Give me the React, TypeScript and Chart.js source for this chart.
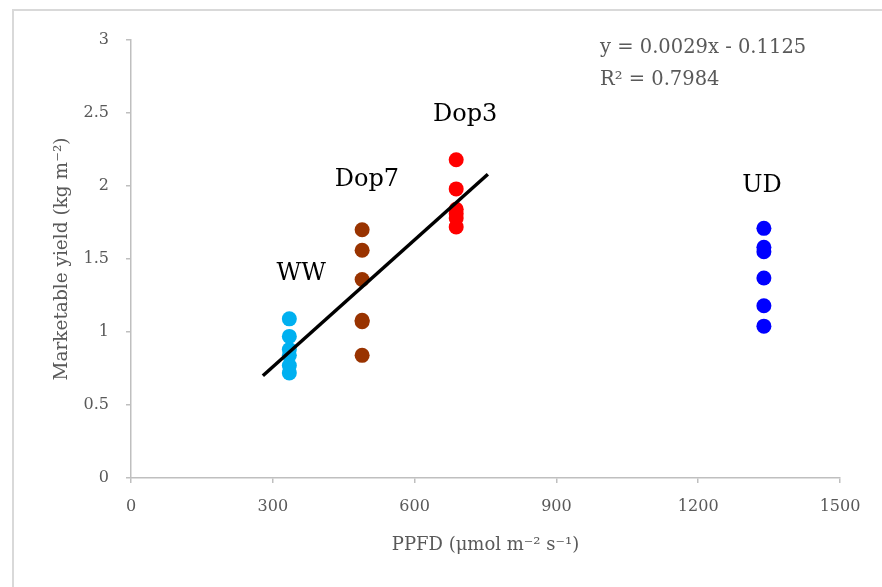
import React, { useEffect, useRef } from "react";
import { Chart, registerables } from "chart.js";

Chart.register(...registerables);

const wwX = [335, 335, 335, 335, 335, 335];
const wwY = [1.09, 0.97, 0.88, 0.84, 0.77, 0.72];
const dop7X = [489, 489, 489, 489, 489, 489];
const dop7Y = [1.7, 1.56, 1.36, 1.08, 1.07, 0.84];
const dop3X = [688, 688, 688, 688, 688, 688];
const dop3Y = [2.18, 1.98, 1.84, 1.81, 1.78, 1.72];
const udX = [1339, 1339, 1339, 1339, 1339, 1339];
const udY = [1.71, 1.58, 1.55, 1.37, 1.18, 1.04];
const trendX = [279, 755];
const trendY = [0.7, 2.08];

const groupLabels = ["WW", "Dop7", "Dop3", "UD"];
const groupLabelX = [360, 499, 707, 1335];
const groupLabelY = [1.4, 2.04, 2.49, 2.0];

const equationLines = ["y = 0.0029x - 0.1125", "R² = 0.7984"];

const xTicks = [0, 300, 600, 900, 1200, 1500];
const yTicks = [0, 0.5, 1, 1.5, 2, 2.5, 3];

const FONT = "'DejaVu Serif', 'Liberation Serif', serif";
const GRAY = "#595959";
const AXIS = "#bfbfbf";

const pts = (xs: number[], ys: number[]) => xs.map((x, i) => ({ x, y: ys[i] }));

const textPlugin = {
  id: "textPlugin",
  afterDatasetsDraw(chart: any) {
    const { ctx, scales } = chart;
    ctx.save();
    ctx.fillStyle = "#000";
    ctx.font = `24px ${FONT}`;
    ctx.textAlign = "center";
    ctx.textBaseline = "middle";
    groupLabels.forEach((t, i) => {
      ctx.fillText(t, scales.x.getPixelForValue(groupLabelX[i]), scales.y.getPixelForValue(groupLabelY[i]));
    });
    ctx.fillStyle = GRAY;
    ctx.font = `19.5px ${FONT}`;
    ctx.textAlign = "left";
    ctx.fillText(equationLines[0], 600, 48);
    ctx.fillText(equationLines[1], 600, 80);
    ctx.restore();
  },
};

export default function App() {
  const ref = useRef<HTMLCanvasElement | null>(null);
  useEffect(() => {
    if (!ref.current) return;
    const mk = (label: string, xs: number[], ys: number[], color: string) => ({
      type: "scatter" as const,
      label,
      data: pts(xs, ys),
      backgroundColor: color,
      borderColor: color,
      pointRadius: 7.5,
      pointBorderWidth: 0,
    });
    const chart = new Chart(ref.current, {
      type: "scatter",
      data: {
        datasets: [
          {
            type: "line",
            label: "trend",
            data: pts(trendX, trendY),
            borderColor: "#000",
            borderWidth: 3.5,
            pointRadius: 0,
            showLine: true,
            fill: false,
          } as any,
          mk("WW", wwX, wwY, "#00B0F0"),
          mk("Dop7", dop7X, dop7Y, "#993300"),
          mk("Dop3", dop3X, dop3Y, "#FF0000"),
          mk("UD", udX, udY, "#0000FF"),
        ],
      },
      options: {
        animation: false,
        responsive: false,
        layout: { padding: { left: 0, top: 40, right: 42, bottom: 0 } },
        plugins: { legend: { display: false }, tooltip: { enabled: false } },
        scales: {
          x: {
            type: "linear",
            min: 0,
            max: 1500,
            afterBuildTicks: (s: any) => {
              s.ticks = xTicks.map((v) => ({ value: v }));
            },
            afterFit: (s: any) => {
              s.height = 109;
            },
            grid: { drawOnChartArea: false, drawTicks: true, tickLength: 5, color: AXIS, lineWidth: 1.5 },
            border: { color: AXIS, width: 1.5 },
            ticks: {
              color: GRAY,
              font: { family: FONT, size: 16 },
              padding: 14,
              maxRotation: 0,
              callback: (v: any) => String(v),
            },
            title: {
              display: true,
              text: "PPFD (μmol m⁻² s⁻¹)",
              color: GRAY,
              font: { family: FONT, size: 18 },
              padding: { top: 0, bottom: 31 },
            },
          },
          y: {
            type: "linear",
            min: 0,
            max: 3,
            afterBuildTicks: (s: any) => {
              s.ticks = yTicks.map((v) => ({ value: v }));
            },
            afterFit: (s: any) => {
              s.width = 131;
            },
            grid: { drawOnChartArea: false, drawTicks: true, tickLength: 5, color: AXIS, lineWidth: 1.5 },
            border: { color: AXIS, width: 1.5 },
            ticks: {
              color: GRAY,
              font: { family: FONT, size: 16 },
              padding: 17,
              callback: (v: any) => String(v),
            },
            title: {
              display: true,
              text: "Marketable yield (kg m⁻²)",
              color: GRAY,
              font: { family: FONT, size: 18.5 },
              padding: { top: 51, bottom: 0 },
            },
          },
        },
      },
      plugins: [textPlugin],
    });
    return () => chart.destroy();
  }, []);

  return (
    <div style={{ position: "fixed", left: 0, top: 0, width: 882, height: 587, overflow: "hidden", background: "#fff" }}>
      <div
        style={{
          position: "absolute",
          left: 12,
          top: 9,
          width: 900,
          height: 600,
          border: "2px solid #d9d9d9",
        }}
      />
      <canvas ref={ref} width={882} height={587} style={{ position: "absolute", left: 0, top: 0, width: 882, height: 587 }} />
    </div>
  );
}
